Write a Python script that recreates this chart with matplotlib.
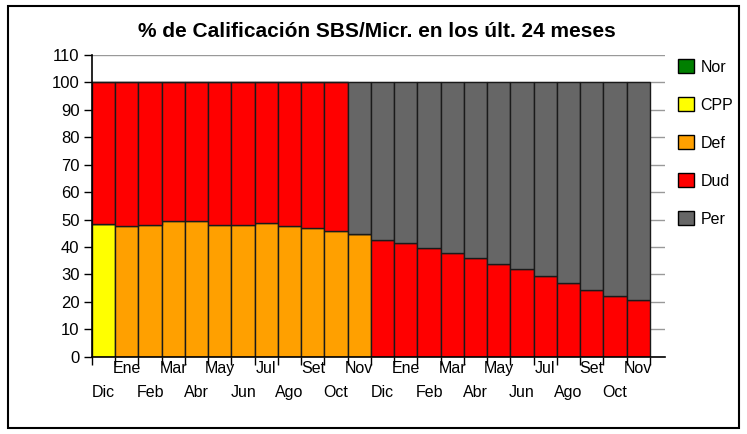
import numpy as np
import matplotlib.pyplot as plt
from matplotlib.patches import Patch, Rectangle

plt.rcParams['font.family'] = ['Liberation Sans', 'DejaVu Sans']

# Meses (24 últimos)
meses = ["Dic", "Ene", "Feb", "Mar", "Abr", "May", "Jun", "Jul", "Ago", "Set", "Oct", "Nov",
         "Dic", "Ene", "Feb", "Mar", "Abr", "May", "Jun", "Jul", "Ago", "Set", "Oct", "Nov"]

# Porcentajes por calificación
nor = [0] * 24
cpp = [48.5] + [0] * 23
dfe = [0, 47.6, 48.2, 49.5, 49.5, 48.2, 48.2, 48.9, 47.6, 47.0, 45.8, 44.6] + [0] * 12
dud = [51.5, 52.4, 51.8, 50.5, 50.5, 51.8, 51.8, 51.1, 52.4, 53.0, 54.2, 0,
       42.7, 41.5, 39.7, 37.9, 35.9, 33.8, 32.0, 29.6, 26.9, 24.4, 22.3, 20.5]
per = [0] * 11 + [55.4, 57.3, 58.5, 60.3, 62.1, 64.1, 66.2, 68.0, 70.4, 73.1, 75.6, 77.7, 79.5]

series = [("Nor", nor, "#007f00"), ("CPP", cpp, "#ffff00"), ("Def", dfe, "#ffa000"),
          ("Dud", dud, "#ff0000"), ("Per", per, "#666666")]

fig = plt.figure(figsize=(7.47, 4.34), dpi=100)
ax = fig.add_axes([92 / 747, 77.3 / 434, 573 / 747, 301.7 / 434])

x = np.arange(24)
bottom = np.zeros(24)
for name, vals, col in series:
    vals = np.array(vals, dtype=float)
    ax.bar(x, vals, width=1.0, bottom=bottom, color=col, edgecolor="#1a1a1a",
           linewidth=1, zorder=2)
    bottom += vals

ax.set_xlim(-0.5, 24.15)
ax.set_ylim(0, 110)
ax.set_yticks(range(0, 111, 10))
ax.yaxis.grid(True, color="#999999", linewidth=1, zorder=0)
ax.set_axisbelow(True)

ax.set_xticks(x)
ax.set_xticklabels(meses)
ax.set_xticks(np.arange(-0.5, 24, 1), minor=True)
ax.tick_params(axis="x", which="major", length=0, labelsize=11.5)
ax.tick_params(axis="x", which="minor", length=6, width=1, color="black")
ax.tick_params(axis="y", length=6, width=1, color="black", labelsize=12, pad=3)
# etiquetas alternadas en dos filas
for i, t in enumerate(ax.xaxis.get_major_ticks()):
    t.set_pad(20.5 if i % 2 == 0 else 3)

for s in ["top", "right"]:
    ax.spines[s].set_visible(False)
for s in ["left", "bottom"]:
    ax.spines[s].set_linewidth(1.2)

fig.suptitle("% de Calificación SBS/Micr. en los últ. 24 meses", x=377 / 747, y=1 - 22 / 434,
             fontsize=15, fontweight="bold")

handles = [Patch(facecolor=col, edgecolor="black", label=name) for name, _, col in series]
fig.legend(handles=handles, loc="upper left", bbox_to_anchor=(667 / 747, 1 - 48 / 434),
           frameon=False, fontsize=11.5, handlelength=1.0, handleheight=1.0,
           handletextpad=0.4, labelspacing=1.4, borderpad=0.2)

fig.patches.append(Rectangle((8 / 747, 6 / 434), 731 / 747, 422 / 434, transform=fig.transFigure,
                             fill=False, edgecolor="black", linewidth=1.5))

fig.savefig("out.png", dpi=100)
